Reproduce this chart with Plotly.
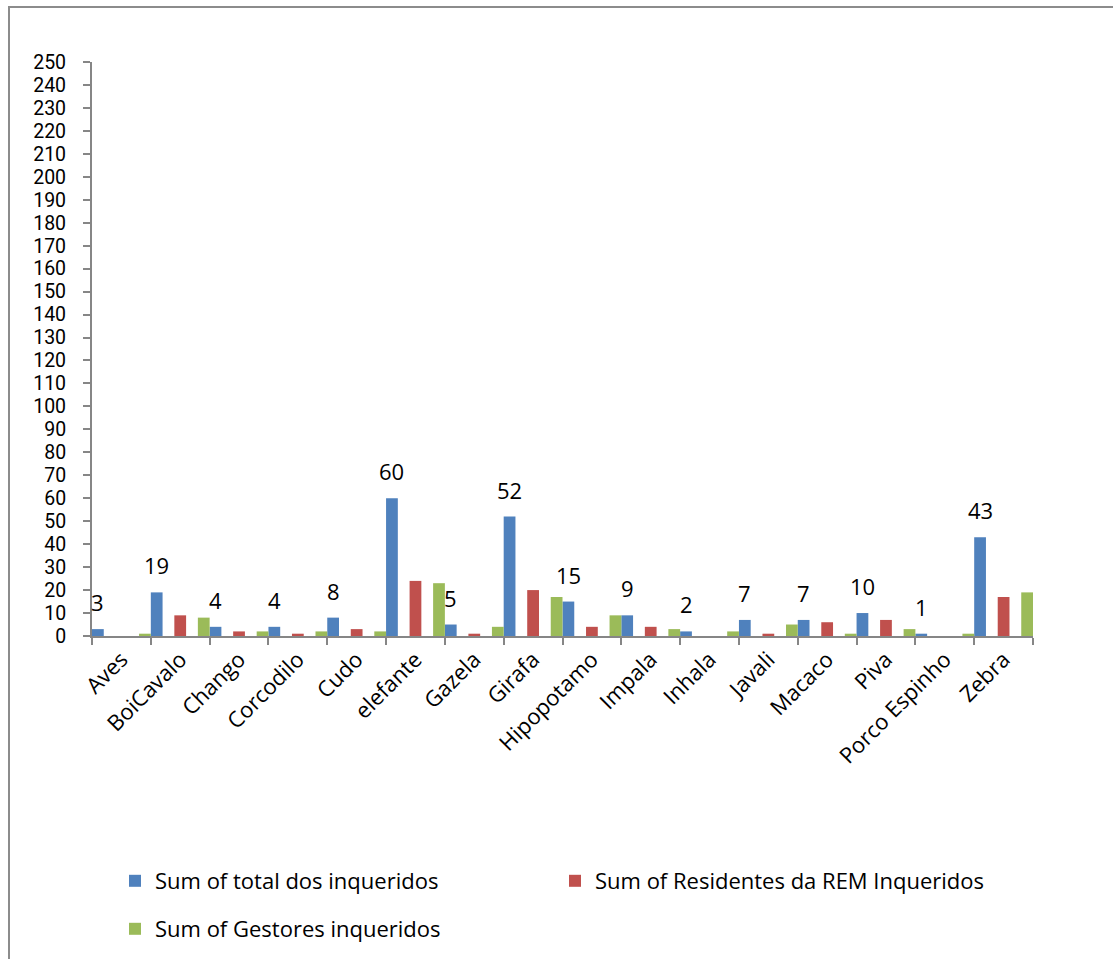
import plotly.graph_objects as go

categories = ["Aves", "BoiCavalo", "Chango", "Corcodilo", "Cudo", "elefante", "Gazela",
              "Girafa", "Hipopotamo", "Impala", "Inhala", "Javali", "Macaco", "Piva",
              "Porco Espinho", "Zebra"]
total = [3, 19, 4, 4, 8, 60, 5, 52, 15, 9, 2, 7, 7, 10, 1, 43]
residentes = [0, 9, 2, 1, 3, 24, 1, 20, 4, 4, 0, 1, 6, 7, 0, 17]
gestores = [1, 8, 2, 2, 2, 23, 4, 17, 9, 3, 2, 5, 1, 3, 1, 19]
series_names = ["Sum of total dos inqueridos", "Sum of Residentes da REM Inqueridos",
                "Sum of Gestores inqueridos"]
y_ticks = list(range(0, 251, 10))

colors = ["#4F81BD", "#C0504D", "#9BBB59"]
FONT = "Open Sans"
FS = 22
W, H = 1113, 959
L, R, T, B = 92, 80, 62, 323
PW, PH = W - L - R, H - T - B
BAR_W = 0.2
offsets = [-0.5, -0.1, 0.3]
legend_ids = ["legend", "legend2", "legend3"]


def px_to_paper_x(px):
    return (px - L) / PW


def px_to_paper_y(py):
    return (H - B - py) / PH


fig = go.Figure()
for name, vals, col, off, lg in zip(series_names, [total, residentes, gestores], colors, offsets, legend_ids):
    fig.add_trace(go.Bar(x=categories, y=vals, name=name, marker_color=col,
                         marker_line_width=0, width=BAR_W, offset=off, legend=lg,
                         hoverinfo="x+y+name"))

for i, v in enumerate(total):
    fig.add_annotation(x=i + offsets[0] + BAR_W / 2, y=v, xref="x", yref="y", text=str(v),
                       showarrow=False, yanchor="middle", yshift=27,
                       font=dict(family=FONT, size=FS, color="black"))

axis_col = "#868686"
fig.update_layout(
    width=W, height=H,
    margin=dict(l=L, r=R, t=T, b=B, autoexpand=False),
    paper_bgcolor="white", plot_bgcolor="white",
    barmode="overlay",
    font=dict(family=FONT, size=FS, color="black"),
    xaxis=dict(type="category", tickson="boundaries", ticks="outside", ticklen=7,
               tickwidth=2, tickcolor=axis_col, showline=True, linecolor=axis_col,
               linewidth=2, showgrid=False, tickangle=-45, range=[-0.5, len(categories) - 0.5],
               tickfont=dict(family=FONT, size=FS, color="black")),
    yaxis=dict(range=[0, 250], tickvals=y_ticks, ticks="outside", ticklen=7, tickwidth=2,
               tickcolor=axis_col, showline=True, linecolor=axis_col, linewidth=2,
               showgrid=False, zeroline=False, ticklabelstandoff=13,
               tickfont=dict(family="Roboto", size=19.5, color="black")),
    legend=dict(x=px_to_paper_x(115), y=px_to_paper_y(881), xanchor="left", yanchor="middle",
                font=dict(family=FONT, size=FS), bgcolor="rgba(0,0,0,0)"),
    legend2=dict(x=px_to_paper_x(555), y=px_to_paper_y(881), xanchor="left", yanchor="middle",
                 font=dict(family=FONT, size=FS), bgcolor="rgba(0,0,0,0)"),
    legend3=dict(x=px_to_paper_x(115), y=px_to_paper_y(929), xanchor="left", yanchor="middle",
                 font=dict(family=FONT, size=FS), bgcolor="rgba(0,0,0,0)"),
    showlegend=True,
)

fig.add_shape(type="rect", xref="paper", yref="paper",
              x0=px_to_paper_x(9), x1=px_to_paper_x(W + 20),
              y0=px_to_paper_y(H + 20), y1=px_to_paper_y(7),
              line=dict(color="#8C8C8C", width=2), fillcolor="rgba(0,0,0,0)", layer="below")

fig.write_html("out.html")
